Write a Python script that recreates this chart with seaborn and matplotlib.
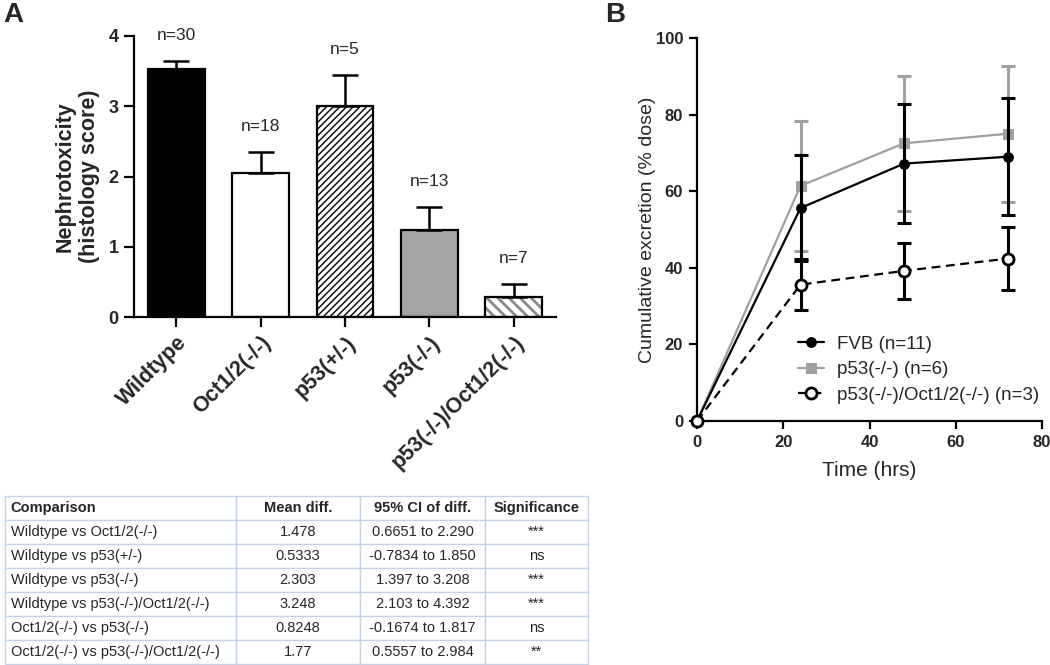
import numpy as np
import pandas as pd
import seaborn as sns
import matplotlib.pyplot as plt
from matplotlib.colors import to_rgba

# panel A: histology scores
groups = ['Wildtype', 'Oct1/2(-/-)', 'p53(+/-)', 'p53(-/-)', 'p53(-/-)/Oct1/2(-/-)']
score = [3.53, 2.05, 3.00, 1.24, 0.29]
score_err = [0.11, 0.30, 0.44, 0.32, 0.18]
n_labels = ['n=30', 'n=18', 'n=5', 'n=13', 'n=7']

# panel B: cumulative excretion
hours = [0, 24, 48, 72]
fvb = [0, 55.6, 67.2, 69.0]
fvb_err = [0, 13.8, 15.5, 15.3]
p53 = [0, 61.4, 72.5, 75.0]
p53_err = [0, 17.0, 17.6, 17.7]
dko = [0, 35.6, 39.2, 42.4]
dko_err = [0, 6.6, 7.4, 8.3]
legend_labels = ['FVB (n=11)', 'p53(-/-) (n=6)', 'p53(-/-)/Oct1/2(-/-) (n=3)']

# comparison table
tab_header = ['Comparison', 'Mean diff.', '95% CI of diff.', 'Significance']
tab_comparison = ['Wildtype vs Oct1/2(-/-)', 'Wildtype vs p53(+/-)', 'Wildtype vs p53(-/-)',
                  'Wildtype vs p53(-/-)/Oct1/2(-/-)', 'Oct1/2(-/-) vs p53(-/-)',
                  'Oct1/2(-/-) vs p53(-/-)/Oct1/2(-/-)']
tab_mean = ['1.478', '0.5333', '2.303', '3.248', '0.8248', '1.77']
tab_ci = ['0.6651 to 2.290', '-0.7834 to 1.850', '1.397 to 3.208', '2.103 to 4.392',
          '-0.1674 to 1.817', '0.5557 to 2.984']
tab_sig = ['***', 'ns', '***', '***', 'ns', '**']

sns.set_theme(style='ticks')
plt.rcParams['font.family'] = ['Liberation Sans', 'DejaVu Sans']
plt.rcParams['hatch.linewidth'] = 1.0

fig = plt.figure(figsize=(10.5, 6.65), dpi=100)
W, H = 1050, 665

def px_axes(x0, y0, x1, y1):
    return fig.add_axes([x0 / W, 1 - y1 / H, (x1 - x0) / W, (y1 - y0) / H])

# ---------------- panel A ----------------
axA = px_axes(134, 36, 556, 317)
bar_colors = ['black', 'white', 'white', '#a3a3a8', 'white']
sns.barplot(x=groups, y=score, hue=groups, palette=bar_colors, legend=False,
            edgecolor='black', linewidth=1.6, width=0.675, errorbar=None, ax=axA)
patches = axA.patches
patches[2].set_hatch('/////')
patches[4].set_hatch('\\\\\\')
if hasattr(patches[4], 'set_hatchcolor'):
    patches[4].set_hatchcolor('#8a8a8a')
else:
    patches[4]._hatch_color = to_rgba('#8a8a8a')
if hasattr(patches[4], 'set_hatch_linewidth'):
    patches[4].set_hatch_linewidth(2.0)

xpos = np.arange(len(groups))
axA.errorbar(xpos, score, yerr=[np.zeros(len(score)), score_err], fmt='none',
             ecolor='black', elinewidth=1.8, capsize=9.7, capthick=1.8, zorder=1)
for x, y, e, t in zip(xpos, score, score_err, n_labels):
    axA.annotate(t, (x, y + e), xytext=(0, 13), textcoords='offset points',
                 ha='center', va='bottom', fontsize=12.5)

axA.set_xlim(-0.5, 4.5)
axA.set_ylim(0, 4)
axA.set_yticks([0, 1, 2, 3, 4])
axA.set_yticklabels(['0', '1', '2', '3', '4'], fontsize=13, fontweight='bold')
axA.set_xticks(xpos)
axA.set_xticklabels(groups, rotation=45, ha='right', rotation_mode='anchor',
                    fontsize=15.5, fontweight='bold')
axA.tick_params(axis='both', length=7, width=1.6, color='black', pad=4)
axA.set_ylabel('Nephrotoxicity\n(histology score)', fontsize=15.5, fontweight='bold',
               linespacing=1.2)
axA.yaxis.set_label_coords(-0.08, 0.5)
for s in ['left', 'bottom']:
    axA.spines[s].set_linewidth(1.6)
    axA.spines[s].set_color('black')
sns.despine(ax=axA)

# ---------------- panel B ----------------
axB = px_axes(697, 38, 1042, 421)
gray = '#a0a0a0'
sns.lineplot(x=hours, y=p53, color=gray, marker='s', markersize=7, markeredgecolor=gray,
             linewidth=1.6, label=legend_labels[1], clip_on=False, zorder=3, ax=axB)
axB.errorbar(hours[1:], p53[1:], yerr=p53_err[1:], fmt='none', ecolor=gray,
             elinewidth=2.2, capsize=4.8, capthick=2.2, zorder=2)
sns.lineplot(x=hours, y=fvb, color='black', marker='o', markersize=7,
             markeredgecolor='black', linewidth=1.6, label=legend_labels[0],
             clip_on=False, zorder=5, ax=axB)
axB.errorbar(hours[1:], fvb[1:], yerr=fvb_err[1:], fmt='none', ecolor='black',
             elinewidth=2.2, capsize=4.8, capthick=2.2, zorder=4)
sns.lineplot(x=hours, y=dko, color='black', marker='o', markersize=8,
             markerfacecolor='white', markeredgecolor='black', markeredgewidth=2,
             linewidth=1.6, linestyle=(0, (4, 2.5)), label=legend_labels[2],
             clip_on=False, zorder=6, ax=axB)
axB.errorbar(hours[1:], dko[1:], yerr=dko_err[1:], fmt='none', ecolor='black',
             elinewidth=2.2, capsize=4.8, capthick=2.2, zorder=4)

axB.set_xlim(0, 80)
axB.set_ylim(0, 100)
axB.set_xticks([0, 20, 40, 60, 80])
axB.set_yticks([0, 20, 40, 60, 80, 100])
for lab in axB.get_xticklabels() + axB.get_yticklabels():
    lab.set_fontsize(12)
    lab.set_fontweight('bold')
axB.tick_params(axis='both', length=6, width=1.6, color='black', pad=4)
axB.set_xlabel('Time (hrs)', fontsize=15)
axB.xaxis.set_label_coords(0.5, -0.105)
axB.set_ylabel('Cumulative excretion (% dose)', fontsize=14)
axB.yaxis.set_label_coords(-0.12, 0.5)
for s in ['left', 'bottom']:
    axB.spines[s].set_linewidth(1.6)
    axB.spines[s].set_color('black')
sns.despine(ax=axB)

h, l = axB.get_legend_handles_labels()
order = [l.index(t) for t in legend_labels]
axB.legend([h[i] for i in order], [l[i] for i in order], loc='center left',
           bbox_to_anchor=(0.293, 0.134), frameon=False, fontsize=13.5,
           handlelength=1.4, handletextpad=0.7, labelspacing=0.45,
           borderpad=0, borderaxespad=0)

# ---------------- table ----------------
axT = px_axes(5, 496, 588, 664)
axT.axis('off')
rows = [[a, b, c, d] for a, b, c, d in zip(tab_comparison, tab_mean, tab_ci, tab_sig)]
col_w = np.array([231, 124, 125, 103]) / 583
tab = axT.table(cellText=rows, colLabels=tab_header, colWidths=col_w,
                cellLoc='center', bbox=[0, 0, 1, 1])
tab.auto_set_font_size(False)
tab.set_fontsize(10.5)
for (r, c), cell in tab.get_celld().items():
    cell.set_edgecolor('#c8d2e6')
    cell.set_linewidth(1.0)
    if c == 0:
        cell._loc = 'left'
        cell.PAD = 0.025
        cell.get_text().set_horizontalalignment('left')
    if r == 0:
        cell.get_text().set_fontweight('bold')

fig.text(3 / W, 1 - 2 / H, 'A', fontsize=20, fontweight='bold', va='top', ha='left')
fig.text(605 / W, 1 - 2 / H, 'B', fontsize=20, fontweight='bold', va='top', ha='left')

fig.savefig('out.png', dpi=100)
